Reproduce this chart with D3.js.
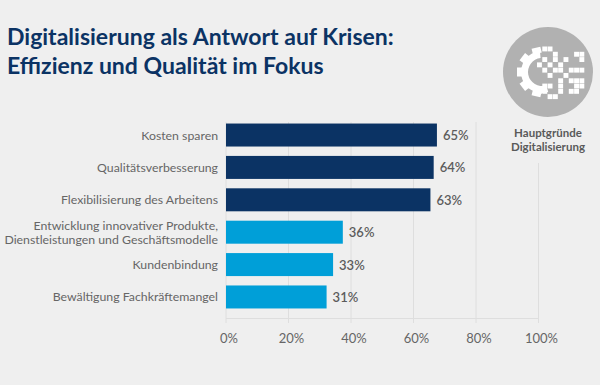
<!DOCTYPE html>
<html><head><meta charset="utf-8">
<script src="https://cdn.jsdelivr.net/npm/d3@7"></script>
<style>html,body{margin:0;padding:0;background:#efefef}svg{display:block}text{font-family:Lato,sans-serif}</style>
</head><body><svg id="c" width="600" height="385"></svg>
<script>
const categories=[["Kosten sparen"],["Qualitätsverbesserung"],["Flexibilisierung des Arbeitens"],["Entwicklung innovativer Produkte,","Dienstleistungen und Geschäftsmodelle"],["Kundenbindung"],["Bewältigung Fachkräftemangel"]];
const values=[65,64,63,36,33,31];
const barColors=["#0b3364","#0b3364","#0b3364","#009fd8","#009fd8","#009fd8"];
const ticks=[0,20,40,60,80,100];
const titleLines=["Digitalisierung als Antwort auf Krisen:","Effizienz und Qualität im Fokus"];
const badge=["Hauptgründe","Digitalisierung"];
const gearTeeth=[-14,-52,-90,-128,-166];
const pixelCells=[[1,0],[2,0],[3,1],[7,1],[8,1],[1,2],[3,2],[5,2],[8,2],[0,3],[2,3],[4,3],[1,4],[3,4],[4,4],[6,4],[7,4],[8,4],[2,5],[5,5],[4,6],[6,6],[7,6],[8,6],[1,7],[2,7],[4,7],[7,7],[8,7],[0,8],[1,8],[4,8],[6,8],[7,8],[2,9],[3,9]];
const svg=d3.select("#c");
svg.append("rect").attr("width",600).attr("height",385).attr("fill","#efefef");
const axisX=d3.scaleLinear().domain([0,100]).range([226,538.5]);
const barX=d3.scaleLinear().domain([0,100]).range([226,550.5]);
const y=d3.scaleBand().domain(d3.range(values.length)).range([119,313]).paddingInner(0.29).paddingOuter(0.14);
svg.selectAll(".g").data(ticks).join("line").attr("x1",d=>axisX(d)).attr("x2",d=>axisX(d)).attr("y1",d=>d==100?163:122).attr("y2",323).attr("stroke","#dedede");
svg.append("line").attr("x1",226).attr("x2",538.5).attr("y1",318.5).attr("y2",318.5).attr("stroke","#dedede");
svg.selectAll(".b").data(values).join("rect").attr("x",barX(0)).attr("y",(d,i)=>y(i)).attr("width",d=>barX(d)-barX(0)).attr("height",y.bandwidth()).attr("fill",(d,i)=>barColors[i]);
svg.selectAll(".v").data(values).join("text").attr("x",d=>barX(d)+6).attr("y",(d,i)=>y(i)+y.bandwidth()/2+5).attr("font-size",13).attr("font-weight",600).attr("fill","#5c5c5c").text(d=>d+"%");
categories.forEach((c,i)=>{const m=y(i)+y.bandwidth()/2;c.forEach((t,j)=>svg.append("text").attr("x",218).attr("y",m+4.5+(j-(c.length-1)/2)*14).attr("text-anchor","end").attr("font-size",12.3).attr("fill","#666").text(t));});
svg.selectAll(".t").data(ticks).join("text").attr("x",d=>axisX(d)+3).attr("y",343).attr("text-anchor","middle").attr("font-size",13).attr("fill","#666").text(d=>d+"%");
titleLines.forEach((t,i)=>svg.append("text").attr("x",7).attr("y",45+i*29).attr("font-size",23).attr("font-weight",700).attr("fill","#0b3364").text(t));
svg.append("circle").attr("cx",548).attr("cy",72).attr("r",45).attr("fill","#b1b1b1");
const gear=svg.append("g").attr("transform","translate(542,72)");
gear.append("path").attr("d",d3.arc()({innerRadius:14,outerRadius:21,startAngle:-Math.PI-0.3,endAngle:-0.1})).attr("fill","#fff");
gear.selectAll("rect").data(gearTeeth).join("rect").attr("x",-4.5).attr("y",-25).attr("width",9).attr("height",6).attr("fill","#fff").attr("transform",d=>`rotate(${d})`);
const cell=d3.scaleLinear().domain([0,1]).range([0,5.3]);
svg.append("g").attr("transform","translate(537,46.5)").selectAll("rect").data(pixelCells).join("rect").attr("x",d=>cell(d[0])).attr("y",d=>cell(d[1])).attr("width",cell(1)-0.4).attr("height",cell(1)-0.4).attr("fill","#fff");
badge.forEach((t,i)=>svg.append("text").attr("x",548).attr("y",137+i*14).attr("text-anchor","middle").attr("font-size",11.5).attr("font-weight",700).attr("fill","#5a5a5a").text(t));
</script></body></html>
